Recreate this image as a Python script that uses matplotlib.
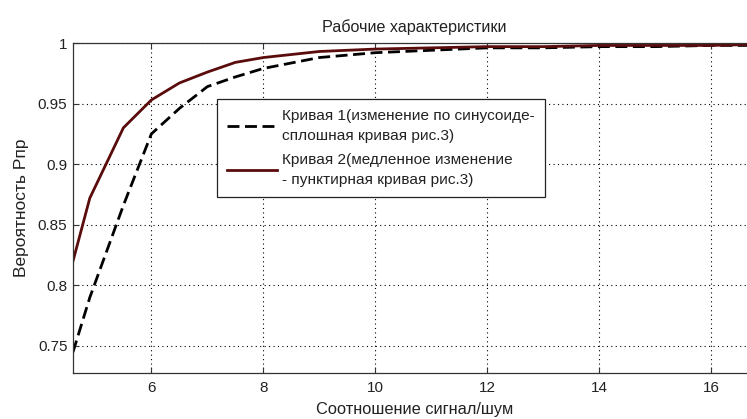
import matplotlib
matplotlib.use("Agg")
import matplotlib.pyplot as plt
from matplotlib.ticker import FuncFormatter

x = [4.6, 4.9, 5.5, 6.0, 6.5, 7.0, 7.5, 8.0, 9.0, 10.0, 11.0, 12.0, 13.0, 14.0, 15.0, 16.0, 17.0]
curve1 = [0.745, 0.790, 0.866, 0.925, 0.946, 0.964, 0.972, 0.979, 0.988, 0.992, 0.994, 0.996, 0.996, 0.997, 0.997, 0.998, 0.998]
curve2 = [0.820, 0.872, 0.930, 0.953, 0.967, 0.976, 0.984, 0.988, 0.993, 0.995, 0.996, 0.997, 0.997, 0.998, 0.998, 0.998, 0.999]
labels = ["Кривая 1(изменение по синусоиде-\nсплошная кривая рис.3)",
          "Кривая 2(медленное изменение\n- пунктирная кривая рис.3)"]
xticks = [6, 8, 10, 12, 14, 16]
yticks = [0.75, 0.8, 0.85, 0.9, 0.95, 1.0]

plt.rcParams['font.family'] = ['Liberation Sans', 'DejaVu Sans']
TXT = '#222222'
W, H = 747, 419
fig = plt.figure(figsize=(W/100, H/100), dpi=100)
ax = fig.add_axes([73/W, 1-373/H, (756-73)/W, (373-43)/H])

ax.plot(x, curve1, color='black', lw=2, ls=(0, (4.3, 2)), label=labels[0])
ax.plot(x, curve2, color='#5a0c0c', lw=2, label=labels[1])

ax.set_xlim(4.6, 16.8)
ax.set_ylim(0.7277, 1.0)
ax.set_xticks(xticks)
ax.set_yticks(yticks)
ax.yaxis.set_major_formatter(FuncFormatter(lambda v, p: '%g' % v))
ax.grid(True, color='black', ls=(0, (1, 3)), lw=0.8)
ax.tick_params(direction='in', top=True, right=True, labelsize=11, length=4,
               labelcolor=TXT, color='#333333')
ax.tick_params(axis='x', pad=6)
ax.tick_params(axis='y', pad=4)
for s in ax.spines.values():
    s.set_linewidth(0.9)
    s.set_color('#333333')

ax.set_title("Рабочие характеристики", fontsize=11.6, pad=8, color=TXT)
ax.set_xlabel("Соотношение сигнал/шум", fontsize=11.8, labelpad=5, color=TXT)
ax.set_ylabel("Вероятность Рпр", fontsize=12.5, labelpad=6, color=TXT)

leg = ax.legend(loc='upper left', bbox_to_anchor=(217/W, 1-99/H), bbox_transform=fig.transFigure,
                fancybox=False, framealpha=1, edgecolor='#222222', fontsize=11.1,
                handlelength=3.25, handletextpad=0.33, borderaxespad=0, borderpad=0.65,
                labelspacing=0.65)
leg.get_frame().set_linewidth(0.9)
for t in leg.get_texts():
    t.set_color(TXT)
    t.set_linespacing(1.55)

fig.savefig("out.png", dpi=100)
